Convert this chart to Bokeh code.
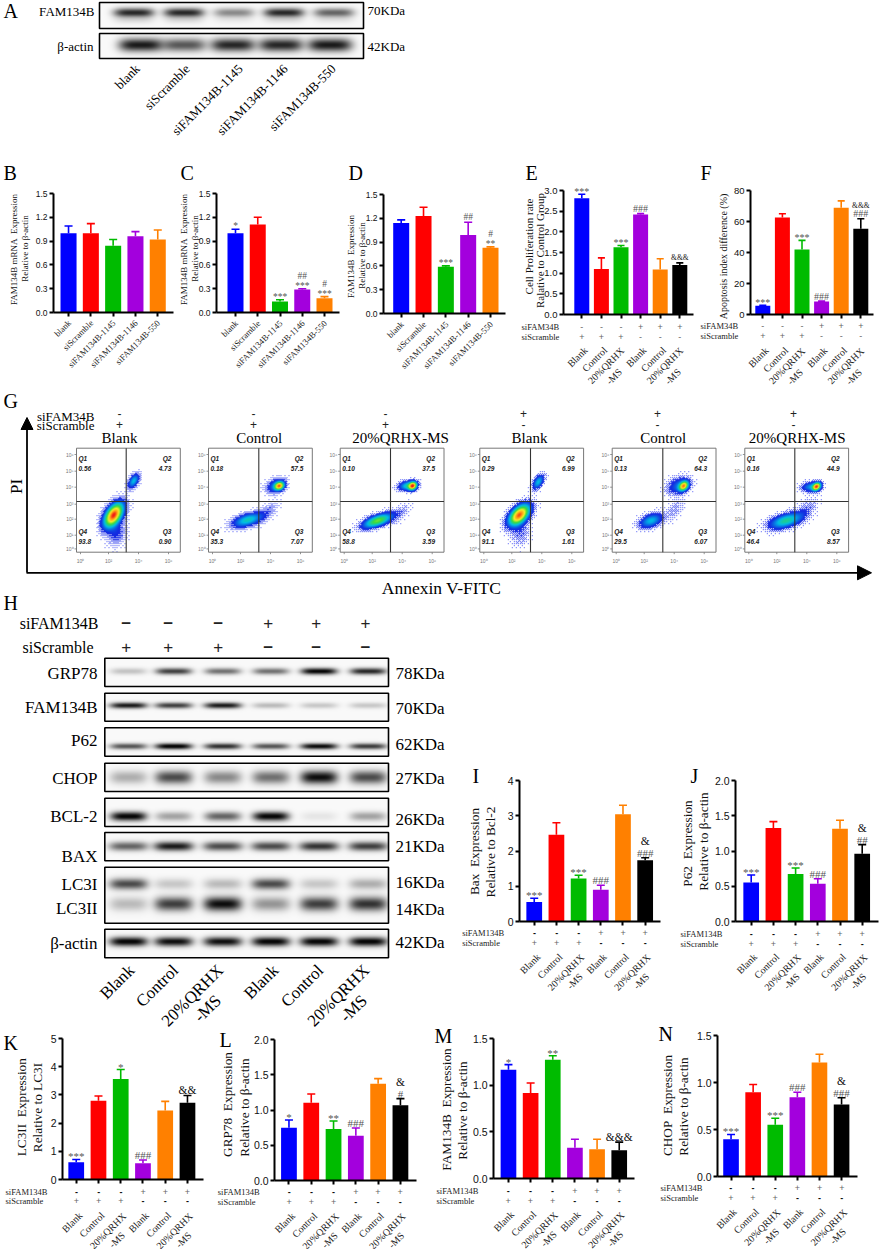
import numpy as np
from bokeh.plotting import figure
from bokeh.layouts import column
from bokeh.models import (Range1d, FixedTicker, PrintfTickFormatter, LinearAxis,
                          ColumnDataSource, Arrow, NormalHead)
from bokeh.core.properties import value
from bokeh.embed import file_html
from bokeh.resources import INLINE

SERIF = "Liberation Serif"
SANS = "Liberation Sans"
COLORS6 = ["#0000ff", "#ff0000", "#00bb00", "#a300dd", "#ff8000", "#000000"]
COLORS5 = COLORS6[:5]
GAP = "\u00a0\u00a0"

# ---------- bar panels: values and upper error limits ----------
si_categories = ["blank", "siScramble", "siFAM134B-1145", "siFAM134B-1146", "siFAM134B-550"]
group_categories = ["Blank", "Control", "20%QRHX\n-MS", "Blank", "Control", "20%QRHX\n-MS"]

B_values = [1.0, 1.0, 0.84, 0.96, 0.92]
B_tops = [1.09, 1.12, 0.92, 1.02, 1.04]
C_values = [1.0, 1.11, 0.14, 0.29, 0.18]
C_tops = [1.05, 1.2, 0.16, 0.30, 0.20]
D_values = [1.14, 1.23, 0.59, 0.99, 0.83]
D_tops = [1.18, 1.34, 0.60, 1.15, 0.84]
E_values = [2.81, 1.1, 1.63, 2.42, 1.09, 1.2]
E_tops = [2.91, 1.37, 1.67, 2.44, 1.35, 1.25]
F_values = [5.6, 62.6, 42, 8.4, 68.8, 55.3]
F_tops = [6, 65, 47.8, 8.6, 73.3, 61.8]
I_values = [0.55, 2.46, 1.22, 0.9, 3.04, 1.74]
I_tops = [0.66, 2.8, 1.31, 1.03, 3.3, 1.81]
J_values = [0.554, 1.327, 0.673, 0.535, 1.317, 0.962]
J_tops = [0.66, 1.417, 0.758, 0.607, 1.436, 1.09]
K_values = [0.615, 2.79, 3.56, 0.58, 2.45, 2.72]
K_tops = [0.71, 2.96, 3.9, 0.69, 2.77, 2.98]
L_values = [0.749, 1.104, 0.73, 0.635, 1.374, 1.066]
L_tops = [0.858, 1.227, 0.844, 0.744, 1.445, 1.161]
M_values = [1.166, 0.917, 1.272, 0.33, 0.313, 0.302]
M_tops = [1.22, 1.024, 1.315, 0.42, 0.42, 0.39]
N_values = [0.397, 0.897, 0.55, 0.844, 1.213, 0.766]
N_tops = [0.447, 0.979, 0.62, 0.897, 1.301, 0.837]

B_ticks = [0, 0.3, 0.6, 0.9, 1.2, 1.5]
E_ticks = [0, 0.5, 1, 1.5, 2, 2.5, 3]
F_ticks = [0, 20, 40, 60, 80]
I_ticks = [0, 1, 2, 3, 4]
J_ticks = [0, 0.5, 1, 1.5, 2]
K_ticks = [0, 1, 2, 3, 4, 5]
M_ticks = [0, 0.5, 1, 1.5]

# significance marks, bottom to top, per bar
C_marks = {0: ["*"], 2: ["***"], 3: ["***", "##"], 4: ["***", "#"]}
D_marks = {2: ["***"], 3: ["##"], 4: ["**", "#"]}
E_marks = {0: ["***"], 2: ["***"], 3: ["###"], 5: ["&&&"]}
F_marks = {0: ["***"], 2: ["***"], 3: ["###"], 5: ["###", "&&&"]}
I_marks = {0: ["***"], 2: ["***"], 3: ["###"], 5: ["###", "&"]}
J_marks = {0: ["***"], 2: ["***"], 3: ["###"], 5: ["##", "&"]}
K_marks = {0: ["***"], 2: ["*"], 3: ["###"], 5: ["&&"]}
L_marks = {0: ["*"], 2: ["**"], 3: ["###"], 5: ["#", "&"]}
M_marks = {0: ["*"], 2: ["**"], 5: ["&&&"]}
N_marks = {0: ["***"], 2: ["***"], 3: ["###"], 5: ["###", "&"]}

row1_signs = ["-", "-", "-", "+", "+", "+"]
row2_signs = ["+", "+", "+", "-", "-", "-"]

# ---------- flow cytometry ----------
flow_titles = ["Blank", "Control", "20%QRHX-MS", "Blank", "Control", "20%QRHX-MS"]
flow_q1 = ["0.56", "0.18", "0.10", "0.29", "0.13", "0.16"]
flow_q2 = ["4.73", "57.5", "37.5", "6.99", "64.3", "44.9"]
flow_q3 = ["0.90", "7.07", "3.59", "1.61", "6.07", "8.57"]
flow_q4 = ["93.8", "35.3", "58.8", "91.1", "29.5", "46.4"]
flow_boxes = [(76, 125.7), (208, 258.3), (339.7, 390), (479.3, 530), (611.7, 662.3), (744.3, 794.3)]
flow_title_x = [119, 258.7, 400, 529, 662.7, 796.7]
flow_sign_x = [119, 253, 385, 523, 657, 793]
# cluster: centre x, centre y, sd x, sd y, correlation, peak density
flow_clusters = [
    [(36.7, 67.3, 6, 7.5, 0.5, 1.0), (39, 85, 6, 8, 0.1, 0.10), (56.7, 33.3, 3.5, 4.5, 0.5, 0.3)],
    [(70.3, 38.3, 3, 2.6, 0.2, 0.8), (67, 38, 6, 4.5, 0.3, 0.2), (38.7, 72.3, 9, 4.5, 0.5, 0.36), (58.7, 64, 7, 7, 0.7, 0.06)],
    [(72, 38.3, 2.6, 2.6, 0.2, 0.85), (67, 38, 5.5, 3, 0.2, 0.35), (37, 73, 9, 4.5, 0.6, 0.55), (60, 65, 6, 6, 0.6, 0.05)],
    [(39, 67.3, 6.5, 6.5, 0.5, 0.95), (58, 34.3, 3.5, 4.5, 0.5, 0.3), (40, 85, 6, 8, 0.1, 0.07)],
    [(71, 38.3, 3, 3, 0.3, 0.8), (66, 38, 7, 5.5, 0.3, 0.18), (38.3, 73, 7, 4.5, 0.4, 0.3), (62, 62, 6, 7, 0.6, 0.05)],
    [(71.3, 39, 2.6, 2.6, 0.3, 0.85), (66, 39, 6, 3, 0.2, 0.25), (40.7, 73, 10, 5, 0.5, 0.4), (60.7, 62, 7, 8, 0.6, 0.06)],
]

# ---------- western blots: relative band strength per lane ----------
A_lanes_top = [133, 183, 233, 283, 333]
A_lanes_bot = [140, 183, 232, 280, 329]
A_fam = [0.85, 0.85, 0.45, 0.85, 0.6]
A_act = [0.9, 0.65, 0.85, 0.85, 0.9]
H_lanes = [128, 173, 222, 270, 318, 367]
H_grp78 = [0.22, 0.75, 0.55, 0.55, 1.0, 0.85]
H_fam = [0.9, 0.75, 0.9, 0.25, 0.2, 0.2]
H_p62 = [0.65, 1.0, 0.8, 0.65, 0.95, 0.75]
H_chop = [0.3, 0.7, 0.45, 0.55, 0.95, 0.7]
H_bcl2 = [1.0, 0.35, 0.6, 1.0, 0.08, 0.35]
H_bax = [0.6, 0.9, 0.7, 0.7, 0.8, 0.75]
H_lc3i = [0.7, 0.2, 0.25, 0.7, 0.2, 0.3]
H_lc3ii = [0.25, 0.75, 0.95, 0.4, 0.75, 0.8]
H_act = [1.0, 0.95, 0.95, 1.0, 1.0, 1.0]

BAYER = np.array([[0, 8, 2, 10], [12, 4, 14, 6], [3, 11, 1, 9], [15, 7, 13, 5]]) / 16.0

# ---------- master canvas: all in reference pixels ----------
W, H = 879, 1249
pm = figure(width=W, height=H, x_range=Range1d(0, W), y_range=Range1d(-H, 0),
            output_backend="svg", toolbar_location=None, min_border=0, frame_align=False,
            x_axis_location=None, y_axis_location=None, outline_line_color=None)
pm.grid.visible = False


def T(x, y, s, size, font=SERIF, align="center", base="middle", color="black", angle=0, style="normal"):
    pm.text(x=[x], y=[-y], text=[s], text_font=value(font), text_font_size=f"{size}px",
            text_align=align, text_baseline=base, text_color=color, angle=angle,
            angle_units="deg", text_font_style=style)


def blot(x0, y0, x1, y1, bands):
    xs = np.arange(x0, x1, 0.5)
    ys = np.arange(y1, y0, -0.5)
    X, Y = np.meshgrid(xs, ys)
    keep = np.ones_like(X)
    for xc, yc, w, h, s in bands:
        g = s * np.exp(-((X - xc) / (w / 2)) ** 4) * np.exp(-((Y - yc) / h) ** 2)
        keep *= 1 - np.clip(g, 0, 0.97)
    gray = (keep * 250).astype(np.uint32)
    img = 0xFF000000 | gray | (gray << 8) | (gray << 16)
    pm.image_rgba(image=[img], x=x0, y=-y1, dw=x1 - x0, dh=y1 - y0)
    pm.quad(left=x0, right=x1, bottom=-y1, top=-y0, fill_color=None, line_color="black", line_width=1.6)


def flow_image(x0, y0, x1, y1, clusters):
    xs = np.arange(x0, x1, 1.0) - x0
    ys = np.arange(y1, y0, -1.0) - y0
    X, Y = np.meshgrid(xs, ys)
    d = np.zeros_like(X)
    for cx, cy, sx, sy, r, peak in clusters:
        u, v = (X - cx) / sx, (Y - cy) / sy
        d += peak * np.exp(-(u * u + 2 * r * u * v + v * v) / (2 * (1 - r * r)))
    d = np.clip(d, 0, 1)
    stops = [0, 0.1, 0.3, 0.5, 0.7, 0.88, 1.0]
    rr = [90, 20, 0, 60, 250, 255, 240]
    gg = [100, 40, 190, 220, 240, 150, 30]
    bb = [250, 225, 230, 60, 40, 20, 20]
    R = np.interp(d, stops, rr)
    G = np.interp(d, stops, gg)
    B = np.interp(d, stops, bb)
    h, w = d.shape
    thr = np.tile(BAYER, (h // 4 + 1, w // 4 + 1))[:h, :w]
    on = (d / 0.1) > (thr + 0.04)
    R = np.where(on, R, 255).astype(np.uint32)
    G = np.where(on, G, 255).astype(np.uint32)
    B = np.where(on, B, 255).astype(np.uint32)
    img = 0xFF000000 | R | (G << 8) | (B << 16)
    pm.image_rgba(image=[img], x=x0, y=-y1, dw=w, dh=h)


charts = []
PAD_TOP = 22
PAD_LEFT = 34
PAD_BOTTOM = 12


def bar_panel(x0, x1, ytop, ybot, c0, c1, ymax, ticks, fmt, values, tops, colors,
              categories, ylabels, letter, letter_xy, marks=None, tick_size=8.5, label_size=9,
              x_size=8.7, bar_px=16, mark_size=9.5, amp_size=8, step=8,
              signs=None, strong_minus=False, one_off=(1, 9), two_off=((-13, 51), (-4, 60))):
    n = len(values)
    sp = (c1 - c0) / (n - 1)
    xr = Range1d(1 - (c0 - x0) / sp, 1 + (x1 - c0) / sp)
    x0i, x1i, yti, ybi = round(x0), round(x1), round(ytop), round(ybot)
    scale = ymax / (ybi - yti)
    p = figure(width=PAD_LEFT + x1i - x0i + 1, height=PAD_TOP + ybi - yti + PAD_BOTTOM,
               x_range=xr, y_range=Range1d(0, ymax + PAD_TOP * scale),
               output_backend="svg", toolbar_location=None, outline_line_color=None,
               x_axis_location=None, y_axis_location=None, frame_align=False,
               background_fill_color=None, border_fill_color=None,
               min_border_left=PAD_LEFT, min_border_right=1, min_border_top=0, min_border_bottom=PAD_BOTTOM,
               styles={"position": "absolute", "left": f"{x0i - PAD_LEFT}px", "top": f"{yti - PAD_TOP}px"})
    p.grid.visible = False
    xs = list(range(1, n + 1))
    src = ColumnDataSource(dict(x=xs, v=values, t=tops, c=colors,
                                l=[a - 0.18 for a in xs], r=[a + 0.18 for a in xs]))
    p.vbar(x="x", top="v", bottom=0, width=bar_px / sp, fill_color="c", line_color=None, source=src)
    p.segment(x0="x", y0="v", x1="x", y1="t", line_color="c", line_width=1.6, source=src)
    p.segment(x0="l", y0="t", x1="r", y1="t", line_color="c", line_width=1.6, source=src)

    xa = LinearAxis(ticker=FixedTicker(ticks=xs),
                    major_label_overrides={i + 1: "" for i in range(n)},
                    axis_line_width=2, major_tick_line_width=2, major_tick_out=4, major_tick_in=0,
                    minor_tick_out=0, minor_tick_in=0)
    p.add_layout(xa, "below")
    ya = LinearAxis(ticker=FixedTicker(ticks=ticks), formatter=PrintfTickFormatter(format=fmt),
                    bounds=(0, ymax),
                    major_label_text_font=SANS, major_label_text_font_size=f"{tick_size}px",
                    major_label_text_color="#111111", major_label_standoff=2,
                    axis_line_width=2, major_tick_line_width=2, major_tick_out=4, major_tick_in=0,
                    minor_tick_out=0, minor_tick_in=0)
    p.add_layout(ya, "left")

    T(letter_xy[0], letter_xy[1], letter, 20, align="left")
    for text, lx, ly in ylabels:
        T(lx, ly, text, label_size, color="#111111", angle=90)

    for i, cat in enumerate(categories):
        tickx = c0 + i * sp
        parts = cat.split("\n")
        if len(parts) == 1:
            T(tickx + one_off[0], ybot + one_off[1], cat, x_size, align="right", color="#222222", angle=45)
        else:
            for part, (dx, dy) in zip(parts, two_off):
                T(tickx + dx, ybot + dy, part, x_size, color="#222222", angle=45)

    for i, stack in (marks or {}).items():
        off = 5
        for s in stack:
            amp = s.startswith("&")
            star = s.startswith("*")
            yy = (off - 2 if star else off) * scale + tops[i]
            p.text(x=[i + 1], y=[yy], text=[s], text_font=value(SERIF),
                   text_font_size=f"{amp_size if amp else mark_size}px",
                   text_color="#111111" if amp else "#555555",
                   text_align="center", text_baseline="middle")
            off += step
    if signs:
        (lx, name1, y1, name2, y2) = signs
        T(lx, y1, name1, 8.5, align="left", color="#222222")
        T(lx, y2, name2, 8.5, align="left", color="#222222")
        for i in range(n):
            for sg, yy in ((row1_signs[i], y1), (row2_signs[i], y2)):
                bold = strong_minus and sg == "-"
                T(c0 + i * sp, yy, sg, 9, font=SANS, style="bold" if bold else "normal",
                  color="#111111" if bold else "#666666")
    charts.append(p)


# ---------- Panel A ----------
blot(99, 2, 363, 28, [(x, 12.7, 40, 4.5, s) for x, s in zip(A_lanes_top, A_fam)] +
     [(x, 20, 40, 4, s * 0.12) for x, s in zip(A_lanes_top, A_fam)])
blot(99, 33, 363, 58, [(x, 45, 44, 6.5, s) for x, s in zip(A_lanes_bot, A_act)])
T(3, 10, "A", 20, align="left")
T(94, 11, "FAM134B", 13, align="right")
T(93, 46, "β-actin", 13, align="right")
T(367, 10, "70KDa", 13, align="left")
T(367, 46, "42KDa", 13, align="left")
for end_x, lab in zip([137, 187, 240, 285, 333], si_categories):
    T(end_x, 66, lab, 13, align="right", angle=45)

# ---------- Panels B-F ----------
L_mrna = f"FAM134B mRNA{GAP}Expression"
L_ba = "Relative to β-actin"
bar_panel(53, 172.7, 192.7, 312, 68, 157, 1.5, B_ticks, "%.1f", B_values, B_tops, COLORS5, si_categories,
          [(L_mrna, 13.3, 249), (L_ba, 24, 248)], "B", (3, 172))
bar_panel(216, 339, 192.7, 312.3, 235, 324, 1.5, B_ticks, "%.1f", C_values, C_tops, COLORS5, si_categories,
          [(L_mrna, 183.5, 249), (L_ba, 194.5, 248)], "C", (180, 172), marks=C_marks)
bar_panel(383, 505, 194.3, 313.3, 400.7, 490, 1.5, B_ticks, "%.1f", D_values, D_tops, COLORS5, si_categories,
          [(f"FAM134B{GAP}Expression", 350, 256), (L_ba, 361, 255)], "D", (348, 172), marks=D_marks)
ef = dict(tick_size=9.5, x_size=10, bar_px=15, mark_size=10, amp_size=7.5,
          one_off=(4, 34), two_off=((-15, 51), (-7, 62)))
bar_panel(563, 693, 190, 314, 581.3, 679.3, 3, E_ticks, "%.1f", E_values, E_tops, COLORS6, group_categories,
          [("Cell Proliferation rate", 528, 246), ("Ralative to Control Group", 539.5, 250)], "E", (525, 172),
          marks=E_marks, label_size=11, signs=(521, "siFAM34B", 326, "siScramble", 336.7), **ef)
bar_panel(750, 873, 190, 314.3, 762.3, 860.3, 80, F_ticks, "%d", F_values, F_tops, COLORS6, group_categories,
          [("Apoptosis index difference (%)", 723.3, 256)], "F", (700, 172),
          marks=F_marks, label_size=10, signs=(700, "siFAM34B", 325.7, "siScramble", 335.7), **ef)

# ---------- Panel G ----------
T(3, 400, "G", 20, align="left")
pm.add_layout(Arrow(end=NormalHead(size=12, fill_color="black", line_color="black"),
                    x_start=26.5, y_start=-572, x_end=26.5, y_end=-417, line_width=1.8))
pm.add_layout(Arrow(end=NormalHead(size=14, fill_color="black", line_color="black"),
                    x_start=26, y_start=-572.3, x_end=871, y_end=-572.3, line_width=1.8))
T(16, 486, "PI", 17, angle=90)
T(441, 587, "Annexin V-FITC", 17.5)
T(94, 415.7, "siFAM34B", 13, align="right")
T(94, 425, "siScramble", 13, align="right")
tx = [4, 32, 62, 92]
ty = [6.3, 23, 39, 56, 71, 87, 100.7]
sup = ["⁰", "¹", "²", "³", "⁴", "⁵", "⁶"]
for i, (bx, gate) in enumerate(flow_boxes):
    top, bot, right = 447.7, 551.7, bx + 103.8
    flow_image(bx, top, right, bot, flow_clusters[i])
    pm.quad(left=bx, right=right, bottom=-bot, top=-top, fill_color=None, line_color="#777777", line_width=1)
    pm.segment(x0=[gate, bx], y0=[-top, -501], x1=[gate, right], y1=[-bot, -501], line_color="#333333", line_width=1.1)
    T(flow_title_x[i], 437.7, flow_titles[i], 15)
    T(flow_sign_x[i], 412.7, row1_signs[i], 12, font=SANS, color="#222222")
    T(flow_sign_x[i], 424, row2_signs[i], 12, font=SANS, color="#222222")
    for lab, xx, al, yy in (("Q1", bx + 2, "left", 457.7), (flow_q1[i], bx + 2, "left", 468),
                            ("Q2", right - 9, "right", 457.7), (flow_q2[i], right - 9, "right", 468),
                            ("Q4", bx + 2, "left", 531), (flow_q4[i], bx + 2, "left", 541.3),
                            ("Q3", right - 9, "right", 531), (flow_q3[i], right - 9, "right", 541.3)):
        T(xx, yy, lab, 6.5, font=SANS, align=al, style="bold italic", color="#222222")
    for k, t in enumerate(tx):
        pm.segment(x0=[bx + t], y0=[-bot], x1=[bx + t], y1=[-(bot + 2)], line_color="#777777", line_width=0.8)
        T(bx + t, 560, "10" + sup[k * 2], 5, font=SANS, color="#777777")
    for k, t in enumerate(ty):
        pm.segment(x0=[bx - 2], y0=[-(top + t)], x1=[bx], y1=[-(top + t)], line_color="#777777", line_width=0.8)
        T(bx - 3, top + t, "10" + sup[6 - k], 5, font=SANS, color="#777777", align="right")

# ---------- Panel H ----------
T(3, 602, "H", 20, align="left")
T(98, 623, "siFAM134B", 16, align="right")
T(93, 646.7, "siScramble", 16, align="right")
h_signs_x = [125.7, 167.7, 217.7, 267.7, 315.7, 365]
for xx, a, b in zip(h_signs_x, row1_signs, row2_signs):
    T(xx, 622, "−" if a == "-" else "+", 17, font=SANS, style="bold" if a == "-" else "normal", color="#222222")
    T(xx, 646, "−" if b == "-" else "+", 17, font=SANS, style="bold" if b == "-" else "normal", color="#222222")
rows = [
    ("GRP78", 672.7, "78KDa", 673, 657.7, 686, [(x, 671, 36, 3.2, s) for x, s in zip(H_lanes, H_grp78)]),
    ("FAM134B", 707, "70KDa", 707.7, 692.7, 720.7, [(x, 705.5, 37, 3, s) for x, s in zip(H_lanes, H_fam)]),
    ("P62", 740, "62KDa", 744, 727.3, 755.7, [(x, 746, 37, 3, s) for x, s in zip(H_lanes, H_p62)]),
    ("CHOP", 778, "27KDa", 777.7, 762.7, 791, [(x, 777, 37, 6.5, s) for x, s in zip(H_lanes, H_chop)]),
    ("BCL-2", 816, "26KDa", 819, 797.7, 826, [(x, 816, 36, 4.5, s) for x, s in zip(H_lanes, H_bcl2)]),
    ("BAX", 856, "21KDa", 845.7, 832, 860.3, [(x, 846, 39, 4.5, s) for x, s in zip(H_lanes, H_bax)]),
    ("LC3I", 884, "16KDa", 881.7, 866.7, 922.7,
     [(x, 884, 38, 5.5, s) for x, s in zip(H_lanes, H_lc3i)] + [(x, 904, 38, 7, s) for x, s in zip(H_lanes, H_lc3ii)]),
    ("β-actin", 943, "42KDa", 942, 928.7, 957.3, [(x, 941.5, 38, 4.5, s) for x, s in zip(H_lanes, H_act)]),
]
for name, ny, kd, ky, y0, y1, bands in rows:
    blot(104.3, y0, 388, y1, bands)
    T(97, ny, name, 17, align="right")
    T(395, ky, kd, 17, align="left")
T(97, 908, "LC3II", 17, align="right")
T(395, 909, "14KDa", 17, align="left")
for end_x, lab in zip([131, 175, 221, 275, 320, 367], group_categories):
    parts = lab.split("\n")
    if len(parts) == 1:
        T(end_x, 967, lab, 17, align="right", angle=45)
    else:
        T(end_x - 29, 995, parts[0], 17, angle=45)
        T(end_x - 14, 1008, parts[1], 17, angle=45)

# ---------- Panels I, J ----------
big = dict(tick_size=10.5, label_size=13.3, x_size=10, bar_px=15.7, mark_size=11, amp_size=11.5, step=12,
           strong_minus=True, one_off=(4, 34), two_off=((-13, 51), (-4, 60)))
bar_panel(519.3, 660, 780, 920.7, 534, 644.7, 4, I_ticks, "%d", I_values, I_tops, COLORS6, group_categories,
          [(f"Bax{GAP}Expression", 474, 851), ("Relative to Bcl-2", 490, 851.5)], "I", (472, 775), marks=I_marks,
          signs=(461.7, "siFAM134B", 932, "siScramble", 942), **big)
bar_panel(735, 878, 780, 920.7, 750.7, 861.7, 2, J_ticks, "%.1f", J_values, J_tops, COLORS6, group_categories,
          [(f"P62{GAP}Expression", 686.7, 843), (L_ba, 703.3, 841)], "J", (690, 775), marks=J_marks,
          signs=(680, "siFAM134B", 933.3, "siScramble", 943.3), **big)

# ---------- Panels K-N ----------
bar_panel(62.3, 203, 1038.3, 1179.3, 76, 187, 5, K_ticks, "%d", K_values, K_tops, COLORS6, group_categories,
          [(f"LC3II{GAP}Expression", 20.7, 1106.7), ("Relative to LC3I", 36.7, 1107)], "K", (3, 1042), marks=K_marks,
          signs=(5, "siFAM134B", 1191, "siScramble", 1200.7), **big)
bar_panel(274.3, 415.7, 1039, 1179.7, 288.7, 399.7, 2, J_ticks, "%.1f", L_values, L_tops, COLORS6, group_categories,
          [(f"GRP78{GAP}Expression", 226.7, 1104), (L_ba, 244, 1107)], "L", (219, 1039), marks=L_marks,
          signs=(217.3, "siFAM134B", 1191, "siScramble", 1201), **big)
bar_panel(492.7, 634, 1037.7, 1178.3, 507.7, 618.7, 1.5, M_ticks, "%.1f", M_values, M_tops, COLORS6, group_categories,
          [(f"FAM134B{GAP}Expression", 445.7, 1109), (L_ba, 461.7, 1110)], "M", (434, 1035), marks=M_marks,
          signs=(436, "siFAM134B", 1190, "siScramble", 1200), **big)
bar_panel(716.7, 857.3, 1034.7, 1175.7, 730.3, 841.3, 1.5, M_ticks, "%.1f", N_values, N_tops, COLORS6, group_categories,
          [(f"CHOP{GAP}Expression", 666.7, 1105), (L_ba, 683.3, 1106)], "N", (658, 1033), marks=N_marks,
          signs=(660, "siFAM134B", 1187.3, "siScramble", 1197.3), **big)

page = column(pm, *charts, styles={"position": "absolute", "left": "0px", "top": "0px"})
open("out.html", "w").write(file_html(page, INLINE))
